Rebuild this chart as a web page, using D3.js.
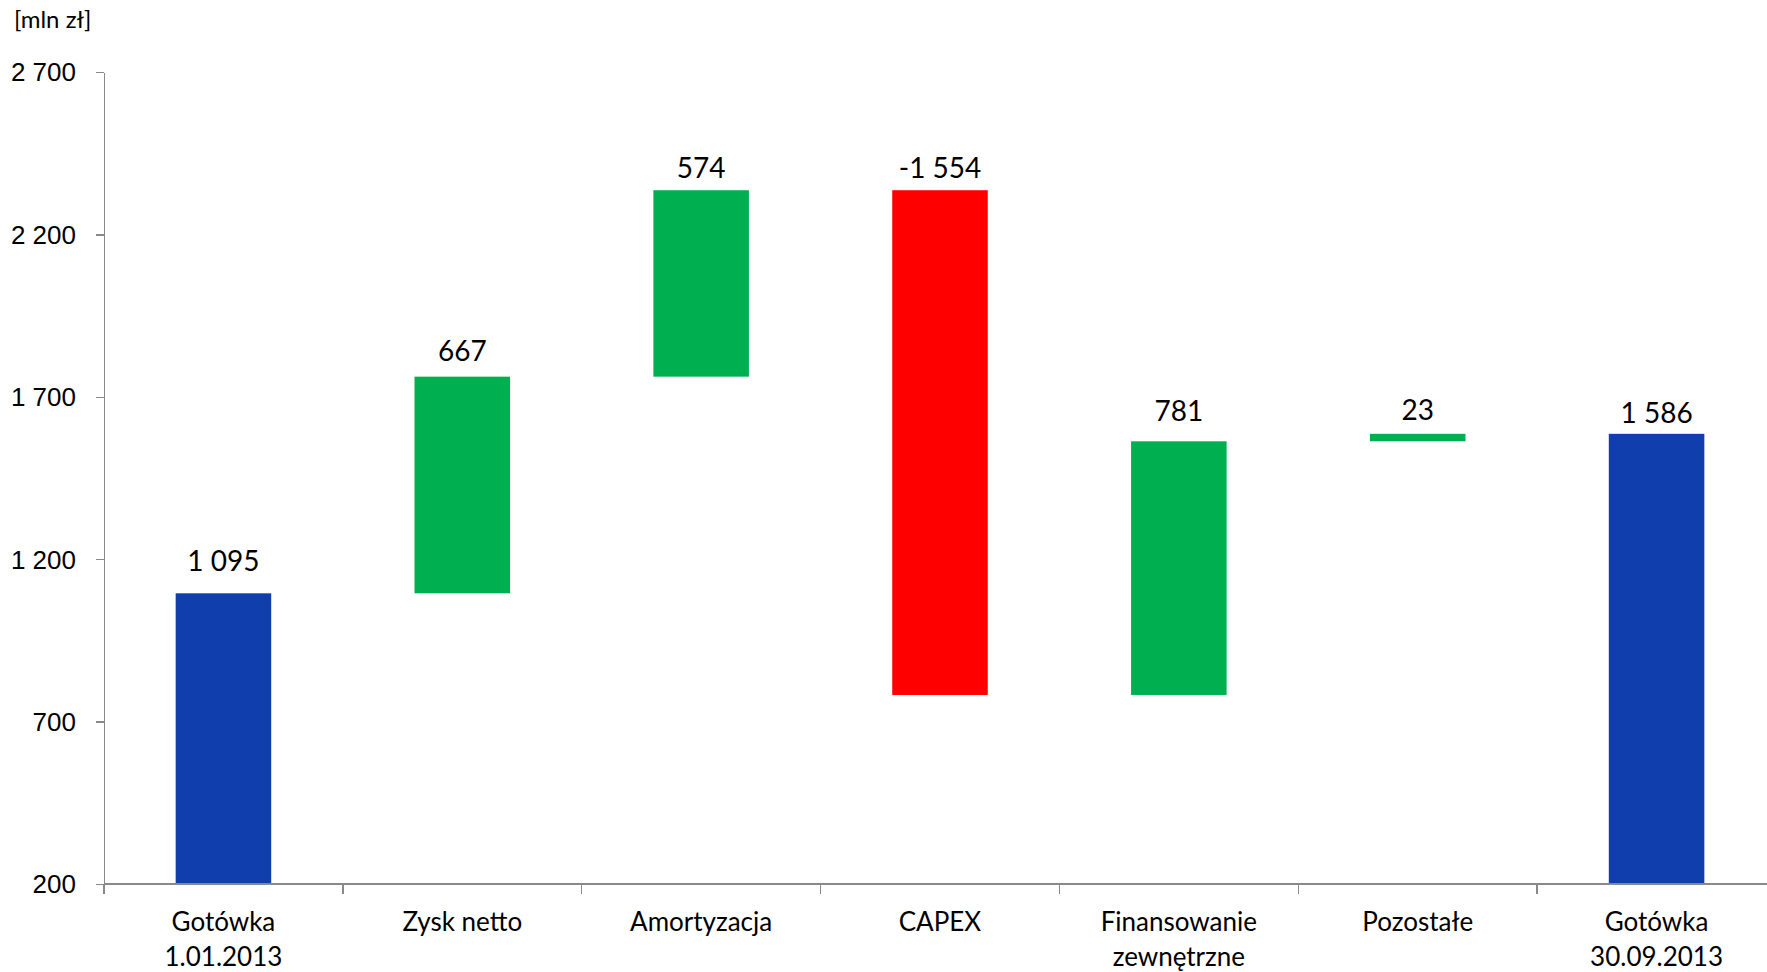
<!DOCTYPE html>
<html lang="pl">
<head>
<meta charset="utf-8">
<title>Przepływy gotówki 1.01–30.09.2013</title>
<script src="https://cdn.jsdelivr.net/npm/d3@7"></script>
<style>
  html, body { margin: 0; padding: 0; background: #ffffff; overflow: hidden; }
  svg { display: block; font-family: Lato, "Open Sans", sans-serif; }
  .axis path, .axis line { stroke: #898989; stroke-width: 1.4; shape-rendering: crispEdges; }
  .axis text { fill: #000; font-size: 26px; }
</style>
</head>
<body>
<svg id="chart" width="1767" height="972"></svg>
<script>
// Categories (two-line labels split by "\n")
const categories = [
  "Gotówka\n1.01.2013",
  "Zysk netto",
  "Amortyzacja",
  "CAPEX",
  "Finansowanie\nzewnętrzne",
  "Pozostałe",
  "Gotówka\n30.09.2013"
];
// Kind of each step: total bars start from the axis, change bars float
const kinds = ["total", "change", "change", "change", "change", "change", "total"];
// Values in mln zł
const values = [1095, 667, 574, -1554, 781, 23, 1586];
// Y-axis ticks
const yTicks = [200, 700, 1200, 1700, 2200, 2700];
const unitLabel = "[mln zł]";

// Gap between a data label's baseline and its bar top, px
const labelGap = [22, 16, 12, 12, 20, 14, 11];

const colors = { total: "#103EAC", up: "#00B050", down: "#FF0000" };

const svg = d3.select("#chart");
const plotLeft = 104, plotRight = 1776, plotTop = 72, plotBottom = 884;

const x = d3.scaleBand()
  .domain(categories)
  .range([plotLeft, plotRight])
  .paddingInner(0.6)
  .paddingOuter(0.3);

const y = d3.scaleLinear()
  .domain([200, 2700])
  .range([plotBottom, plotTop]);

const fmt = v => {
  const s = d3.format(",")(Math.abs(v)).replace(/,/g, " ");
  return (v < 0 ? "-" : "") + s;
};

// Build waterfall segments
let running = 0;
const bars = values.map((v, i) => {
  let y0, y1, color;
  if (kinds[i] === "total") {
    y0 = y.domain()[0];
    y1 = v;
    running = v;
    color = colors.total;
  } else {
    y0 = running;
    y1 = running + v;
    running = y1;
    color = v >= 0 ? colors.up : colors.down;
  }
  return { cat: categories[i], value: v, lo: Math.min(y0, y1), hi: Math.max(y0, y1), color, i };
});

// Bars
svg.append("g").selectAll("rect")
  .data(bars)
  .join("rect")
  .attr("x", d => x(d.cat))
  .attr("width", x.bandwidth())
  .attr("y", d => y(d.hi))
  .attr("height", d => y(d.lo) - y(d.hi))
  .attr("fill", d => d.color);

// Y axis
const yAxis = svg.append("g")
  .attr("class", "axis")
  .attr("transform", `translate(${plotLeft},0)`)
  .call(d3.axisLeft(y).tickValues(yTicks).tickFormat(fmt).tickSize(8).tickPadding(20).tickSizeOuter(0));
yAxis.selectAll("text").attr("dy", "0.34em");

// X axis baseline with ticks between categories
const xAxis = svg.append("g").attr("class", "axis");
xAxis.append("line")
  .attr("x1", plotLeft).attr("x2", plotRight)
  .attr("y1", plotBottom).attr("y2", plotBottom);
const boundaries = d3.range(categories.length)
  .map(i => i === 0 ? plotLeft : x(categories[i]) - x.step() * x.paddingInner() / 2);
xAxis.selectAll("line.tick")
  .data(boundaries)
  .join("line")
  .attr("class", "tick")
  .attr("x1", d => d).attr("x2", d => d)
  .attr("y1", plotBottom).attr("y2", plotBottom + 10);

// Category labels
const catText = xAxis.selectAll("text.cat")
  .data(categories)
  .join("text")
  .attr("class", "cat")
  .attr("text-anchor", "middle")
  .attr("x", d => x(d) + x.bandwidth() / 2)
  .attr("y", 931);
catText.selectAll("tspan")
  .data(d => d.split("\n").map(t => ({ t, x: x(d) + x.bandwidth() / 2 })))
  .join("tspan")
  .attr("x", d => d.x)
  .attr("dy", (d, i) => i === 0 ? 0 : 35)
  .text(d => d.t);

// Data labels above each bar
svg.append("g").selectAll("text")
  .data(bars)
  .join("text")
  .attr("text-anchor", "middle")
  .attr("font-size", 28)
  .attr("fill", "#000")
  .attr("x", d => x(d.cat) + x.bandwidth() / 2)
  .attr("y", d => y(d.hi) - labelGap[d.i])
  .text(d => fmt(d.value));

// Unit label
svg.append("text")
  .attr("x", 14)
  .attr("y", 28)
  .attr("font-size", 24)
  .attr("fill", "#000")
  .text(unitLabel);
</script>
</body>
</html>
